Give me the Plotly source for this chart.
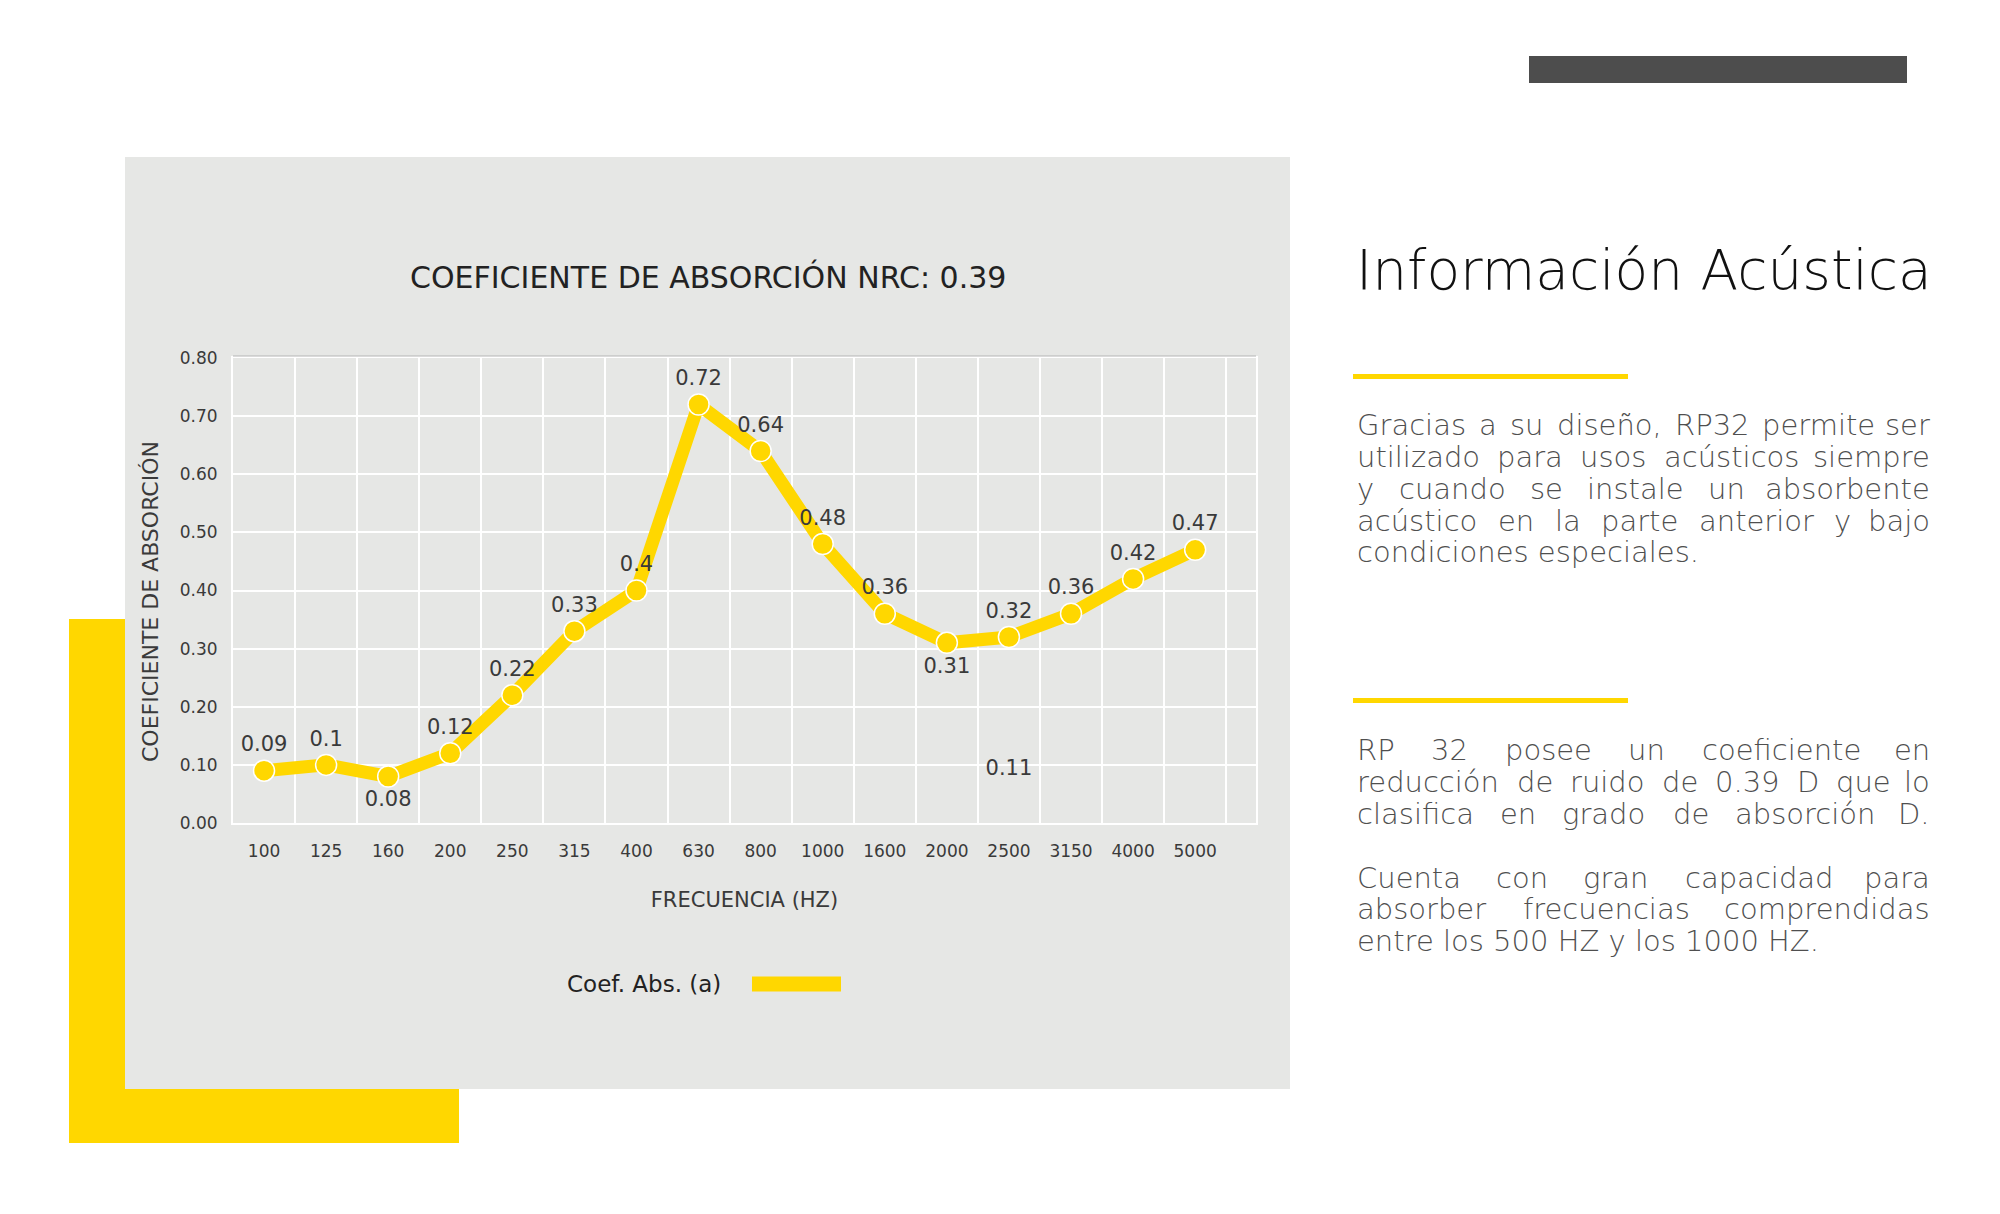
import plotly.graph_objects as go

# ── data ──────────────────────────────────────────────────────────────────────
frequencies = ["100", "125", "160", "200", "250", "315", "400", "630",
               "800", "1000", "1600", "2000", "2500", "3150", "4000", "5000"]
coef_abs = [0.09, 0.10, 0.08, 0.12, 0.22, 0.33, 0.40, 0.72,
            0.64, 0.48, 0.36, 0.31, 0.32, 0.36, 0.42, 0.47]
y_ticks = [0.0, 0.1, 0.2, 0.3, 0.4, 0.5, 0.6, 0.7, 0.8]
stray_freq = ["2500"]
stray_value = [0.11]

# labels drawn under the point instead of over it
LABEL_BELOW = {"160", "2000"}

# ── colours / fonts ───────────────────────────────────────────────────────────
YELLOW = "#FFD700"
PANEL = "#E6E7E5"
DARK = "#4D4D4D"
TXT = "#3A3A3A"
PARA = "#4F4F4F"
FONT = "DejaVu Sans"

OFF = 8                              # page body margin
W, H = 2000 - 2 * OFF, 1214 - 2 * OFF
L, R, T, B = 233, 1256, 358, 823     # plot area, screen pixels


def fx(px):
    return (px - L) / (R - L)


def fy(py):
    return (B - py) / (B - T)


def rect(x0, y0, x1, y1, color):
    return dict(type="rect", xref="paper", yref="paper", layer="below",
                x0=fx(x0), x1=fx(x1), y0=fy(y1), y1=fy(y0),
                fillcolor=color, line=dict(width=0))


fig = go.Figure()

fig.add_trace(go.Scatter(
    x=frequencies, y=coef_abs,
    mode="lines+markers+text",
    line=dict(color=YELLOW, width=13),
    marker=dict(size=21, color=YELLOW, line=dict(color="white", width=1.5)),
    text=[f"{v:g}" for v in coef_abs],
    textposition=["bottom center" if f in LABEL_BELOW else "top center" for f in frequencies],
    textfont=dict(family=FONT, size=21, color=TXT),
    cliponaxis=False,
    showlegend=False,
))

fig.add_trace(go.Scatter(
    x=stray_freq, y=stray_value, mode="text",
    text=[f"{v:g}" for v in stray_value],
    textposition="bottom center",
    textfont=dict(family=FONT, size=21, color=TXT),
    showlegend=False,
))

shapes = [
    rect(69, 619, 459, 1143, YELLOW),      # yellow L block
    rect(125, 157, 1290, 1089, PANEL),     # chart panel
    rect(1529, 56, 1907, 83, DARK),        # top dark bar
    rect(1353, 374, 1628, 379, YELLOW),    # rule 1
    rect(1353, 698, 1628, 703, YELLOW),    # rule 2
    dict(type="line", xref="paper", yref="paper",
         x0=fx(L), x1=fx(R), y0=fy(T - 2), y1=fy(T - 2),
         line=dict(color="#B5B5B5", width=1)),
    dict(type="line", xref="paper", yref="paper",
         x0=fx(752), x1=fx(841), y0=fy(984), y1=fy(984),
         line=dict(color=YELLOW, width=15)),
]

annotations = [
    dict(text="COEFICIENTE DE ABSORCIÓN NRC: 0.39", x=fx(708), y=fy(277), xanchor="center",
         font=dict(family=FONT, size=30, color="#222222")),
    dict(text="COEFICIENTE DE ABSORCIÓN", x=fx(150), y=fy(602), xanchor="center",
         textangle=-90, font=dict(family=FONT, size=22, color=TXT)),
    dict(text="Coef. Abs. (a)", x=fx(723), y=fy(984), xanchor="right",
         font=dict(family=FONT, size=23, color="#222222")),
    dict(text="Información Acústica", x=fx(1354), y=fy(270), xanchor="left",
         font=dict(family=FONT, size=55, color="#111111", weight=200)),
]

# approximate advance widths (em) of DejaVu Sans, for word-by-word justification
GLYPH = {
    "a": .613, "b": .635, "c": .550, "d": .635, "e": .615, "f": .352, "g": .635,
    "h": .634, "i": .278, "j": .278, "k": .579, "l": .278, "m": .974, "n": .634,
    "o": .612, "p": .635, "q": .635, "r": .411, "s": .521, "t": .392, "u": .634,
    "v": .592, "w": .818, "x": .592, "y": .592, "z": .525, "ñ": .634, "á": .613,
    "é": .615, "í": .278, "ó": .612, "ú": .634, ".": .318, ",": .318,
    "R": .695, "P": .603, "D": .770, "H": .752, "Z": .685, "G": .775, "C": .698,
}


def text_width(word, size):
    return size * sum(GLYPH.get(ch, .636 if ch.isdigit() else .65) for ch in word)


PARA_SIZE = 29
para_lines = [
    ("Gracias a su diseño, RP32 permite ser", 425, True),
    ("utilizado para usos acústicos siempre", 457, True),
    ("y cuando se instale un absorbente", 489, True),
    ("acústico en la parte anterior y bajo", 521, True),
    ("condiciones especiales.", 552, False),
    ("RP 32 posee un coeficiente en", 750, True),
    ("reducción de ruido de 0.39 D que lo", 782, True),
    ("clasifica en grado de absorción D.", 814, True),
    ("Cuenta con gran capacidad para", 878, True),
    ("absorber frecuencias comprendidas", 909, True),
    ("entre los 500 HZ y los 1000 HZ.", 941, False),
]
X0, X1 = 1355, 1932

for line, ypix, justify in para_lines:
    pfont = dict(family=FONT, size=PARA_SIZE, color=PARA, weight=200)
    if not justify:
        annotations.append(dict(text=line, x=fx(X0), y=fy(ypix), xanchor="left", font=pfont))
        continue
    words = line.split()
    widths = [text_width(w, PARA_SIZE) for w in words]
    gap = (X1 - X0 - sum(widths)) / (len(words) - 1)
    xpos = X0
    for i, (w, wd) in enumerate(zip(words, widths)):
        if i == len(words) - 1:
            annotations.append(dict(text=w, x=fx(X1), y=fy(ypix), xanchor="right", font=pfont))
        else:
            annotations.append(dict(text=w, x=fx(xpos), y=fy(ypix), xanchor="left", font=pfont))
        xpos += wd + gap

for a in annotations:
    a.update(xref="paper", yref="paper", showarrow=False, yanchor="middle")

fig.update_layout(
    width=W, height=H,
    margin=dict(l=L - OFF, r=W - (R - OFF), t=T - OFF, b=H - (B - OFF)),
    paper_bgcolor="white",
    plot_bgcolor="rgba(0,0,0,0)",
    font=dict(family=FONT, color=TXT),
    shapes=shapes,
    annotations=annotations,
    xaxis=dict(
        type="category", range=[-0.5, len(frequencies) - 0.02],
        tickson="boundaries", ticks="",
        showgrid=True, gridcolor="white", gridwidth=1.5,
        showline=True, linecolor="white", linewidth=2, mirror=True,
        tickfont=dict(family=FONT, size=17, color=TXT),
        ticklabelstandoff=12,
        title=dict(text="FRECUENCIA (HZ)", standoff=32,
                   font=dict(family=FONT, size=21, color=TXT)),
        zeroline=False,
    ),
    yaxis=dict(
        range=[0, 0.8], tickvals=y_ticks, tickformat=".2f", ticks="",
        showgrid=True, gridcolor="white", gridwidth=1.5,
        showline=True, linecolor="white", linewidth=2, mirror=True,
        tickfont=dict(family=FONT, size=17, color=TXT),
        ticklabelstandoff=10,
        zeroline=False,
    ),
)

fig.write_html("out.html")
